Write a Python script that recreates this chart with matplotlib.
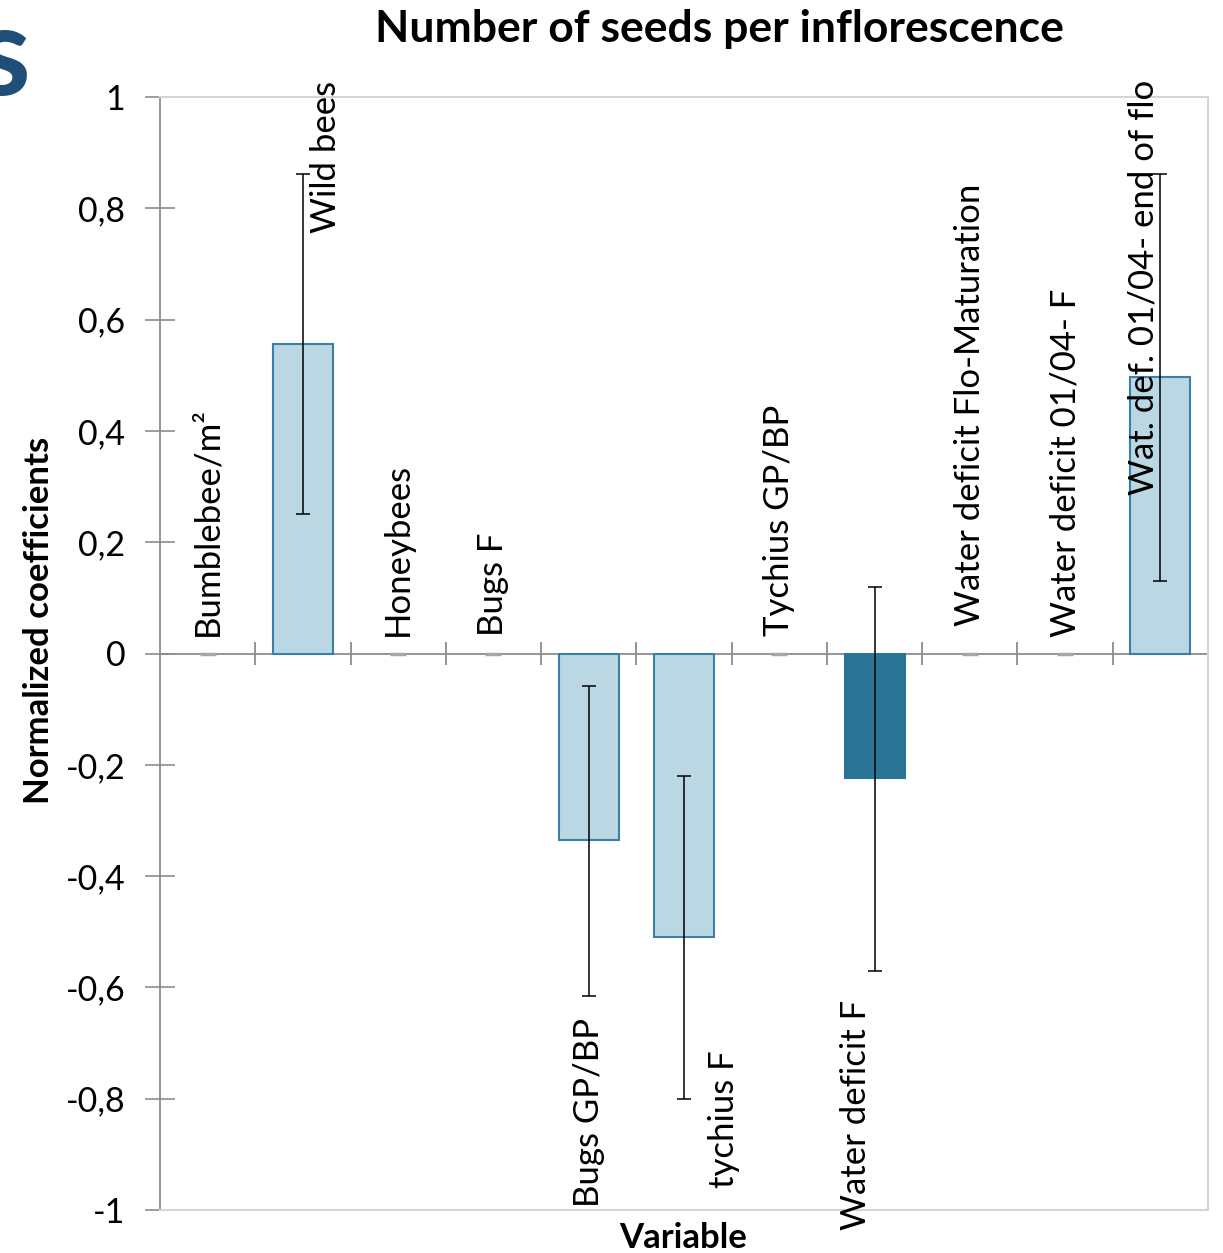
import matplotlib
matplotlib.use('Agg')
import matplotlib.pyplot as plt
import numpy as np

plt.rcParams['font.family'] = ['Lato', 'DejaVu Sans']

variables = ['Bumblebee/m²', 'Wild bees', 'Honeybees', 'Bugs F', 'Bugs GP/BP',
             'tychius F', 'Tychius GP/BP', 'Water deficit F',
             'Water deficit Flo-Maturation', 'Water deficit 01/04- F',
             'Wat. def. 01/04- end of flo']
coef = [0, 0.557, 0, 0, -0.336, -0.509, 0, -0.224, 0, 0, 0.497]
err_low = [0, 0.25, 0, 0, -0.615, -0.80, 0, -0.57, 0, 0, 0.13]
err_high = [0, 0.862, 0, 0, -0.058, -0.22, 0, 0.12, 0, 0, 0.862]
highlight = 'Water deficit F'

# where each category name sits (x offset from bar centre, y start)
label_dx = [0, 0.24, 0, 0, 0, 0.42, 0, -0.19, 0, 0, -0.18]
label_y = [0.032, 0.755, 0.032, 0.032, -0.995, -0.96, 0.032, -1.036, 0.05, 0.029, 0.284]

ytick_vals = [1, 0.8, 0.6, 0.4, 0.2, 0, -0.2, -0.4, -0.6, -0.8, -1]
ytick_labels = ['1', '0,8', '0,6', '0,4', '0,2', '0', '-0,2', '-0,4', '-0,6', '-0,8', '-1']

fig = plt.figure(figsize=(12.23, 12.53), dpi=100)
ax = fig.add_axes([160/1223, 1 - 1210/1253, 1048/1223, 1113/1253])

x = np.arange(len(variables))
coef = np.array(coef)
nz = coef != 0
light = '#BCD7E4'
dark = '#2A7496'
faces = np.array([dark if v == highlight else light for v in variables])
edges = np.array([dark if v == highlight else '#3B7EA6' for v in variables])
ax.bar(x[nz], coef[nz], width=0.63, color=faces[nz], edgecolor=edges[nz],
       linewidth=1.5, zorder=2)

lo = coef - np.array(err_low)
hi = np.array(err_high) - coef
ax.errorbar(x[nz], coef[nz], yerr=[lo[nz], hi[nz]], fmt='none', ecolor='black',
            elinewidth=1.1, capsize=5, capthick=1.1, zorder=3)
# zero-valued entries show as a small grey dash
ax.plot(x[~nz], coef[~nz], linestyle='none', marker='_', markersize=12,
        markeredgewidth=2.5, color='#A6A6A6', zorder=3)

ax.axhline(0, color='#8C8C8C', linewidth=1.3, zorder=1)
ax.vlines(np.arange(0.5, len(variables), 1), -0.02, 0.02, color='#8C8C8C',
          linewidth=1.3, zorder=1)

for xi, name, dx, ly in zip(x, variables, label_dx, label_y):
    ax.text(xi + dx, ly, name, rotation=90, ha='center', va='bottom',
            fontsize=25, color='black', zorder=4, clip_on=False)

ax.set_xlim(-0.5, len(variables) - 0.5)
ax.set_ylim(-1, 1)
ax.set_xticks([])
ax.set_yticks(ytick_vals)
ax.set_yticklabels(ytick_labels, fontsize=24.5)
ax.tick_params(axis='y', direction='inout', length=22, width=1.2, color='#8C8C8C', pad=14)

for side in ['top', 'right', 'bottom']:
    ax.spines[side].set_color('#D4D4D4')
    ax.spines[side].set_linewidth(1.5)
ax.spines['left'].set_color('#8C8C8C')
ax.spines['left'].set_linewidth(1.3)

ax.set_ylabel('Normalized coefficients', fontsize=25, fontweight='bold')
ax.yaxis.set_label_coords(-0.100, 0.53)
ax.text(0.499, -0.025, 'Variable', transform=ax.transAxes, ha='center', va='center',
        fontsize=25, fontweight='bold')
ax.text(0.534, 1.061, 'Number of seeds per inflorescence', transform=ax.transAxes,
        ha='center', va='center', fontsize=32, fontweight='bold')

fig.text(-24/1223, 1 - 95/1253, 's', fontsize=90, fontweight='bold', color='#1F4E79',
         ha='left', va='baseline')

fig.savefig('out.png', dpi=100)
